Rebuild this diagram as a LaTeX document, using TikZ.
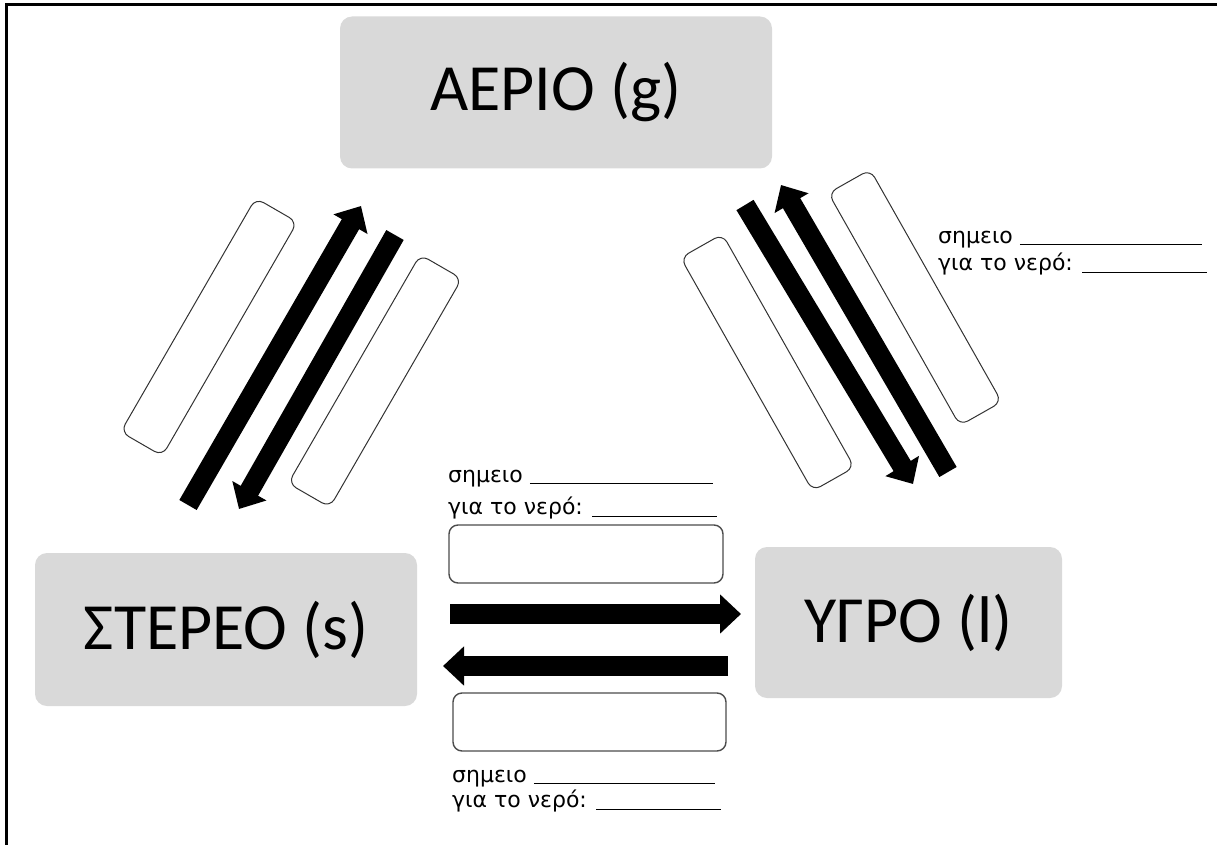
\documentclass[tikz,border=0pt]{standalone}
\usepackage{fontspec}
\newfontfamily\statefont{Carlito}
\newfontfamily\notefont{DejaVu Sans}
\usetikzlibrary{arrows.meta}

\begin{document}
\begin{tikzpicture}[
    x=1pt, y=-1pt,
    phase/.style={fill=gray!30, rounded corners=12pt, inner sep=0pt,
                  font=\statefont\fontsize{66}{70}\selectfont},
    blank/.style={draw=gray!40!black, line width=1pt, rounded corners=9pt, fill=white},
    note/.style={anchor=base west, inner sep=0pt, font=\notefont\fontsize{22}{26}\selectfont},
    fat/.style={line width=20pt, -{Triangle[width=38pt,length=21pt]}},
  ]
  \useasboundingbox (0,0) rectangle (1217,845);

  %% Frame
  \draw[line width=3pt] (6,845) -- (6,4.5) -- (1217,4.5);

  %% States
  \node[phase, minimum width=432pt, minimum height=152pt] (gas) at (556,92.5) {ΑΕΡΙΟ (g)};
  \node[phase, minimum width=382pt, minimum height=153pt] (solid) at (226,629.5) {ΣΤΕΡΕΟ (s)};
  \node[phase, minimum width=307pt, minimum height=151pt] (liquid) at (908.5,622.5) {ΥΓΡΟ (l)};

  %% Empty boxes for the names of the changes
  \node[blank, minimum width=270pt, minimum height=48pt, rotate=60] (bsg1) at (209,327) {};
  \node[blank, minimum width=264pt, minimum height=48pt, rotate=60] (bsg2) at (375,381) {};
  \node[blank, minimum width=268pt, minimum height=48pt, rotate=-60.5] (blg1) at (767.5,362.5) {};
  \node[blank, minimum width=267pt, minimum height=48pt, rotate=-60.5] (blg2) at (915,297.5) {};
  \node[blank, minimum width=274pt, minimum height=58pt, line width=1.4pt, draw=gray!60!black] (bsl1) at (586,554) {};
  \node[blank, minimum width=273pt, minimum height=58pt, line width=1.4pt, draw=gray!60!black] (bsl2) at (589.5,722) {};

  %% Arrow ends
  \coordinate (sg1) at (188,505);  \coordinate (sg2) at (361,206);
  \coordinate (gs1) at (395,235);  \coordinate (gs2) at (239,509);
  \coordinate (gl1) at (745,205);  \coordinate (gl2) at (913,484);
  \coordinate (lg1) at (948,472);  \coordinate (lg2) at (781,185);
  \coordinate (sl1) at (450,614);  \coordinate (sl2) at (741,614);
  \coordinate (ls1) at (728,666);  \coordinate (ls2) at (443,666);

  %% Arrows
  \draw[fat] (sg1) -- (sg2);
  \draw[fat] (gs1) -- (gs2);
  \draw[fat] (gl1) -- (gl2);
  \draw[fat] (lg1) -- (lg2);
  \draw[fat] (sl1) -- (sl2);
  \draw[fat] (ls1) -- (ls2);

  %% Notes
  \node[note] (nlg1) at (938,243) {σημειο \rule[-2pt]{182pt}{1.2pt}};
  \node[note] (nlg2) at (938,270) {για το νερό: \rule[-3pt]{125pt}{1.2pt}};
  \node[note] (nsl1) at (448,482) {σημειο \rule[-2pt]{183pt}{1.2pt}};
  \node[note] (nsl2) at (448,514) {για το νερό: \rule[-3pt]{125pt}{1.2pt}};
  \node[note] (nls1) at (452,782) {σημειο \rule[-2pt]{181pt}{1.2pt}};
  \node[note] (nls2) at (452,807) {για το νερό: \rule[-3pt]{125pt}{1.2pt}};

\end{tikzpicture}
\end{document}
